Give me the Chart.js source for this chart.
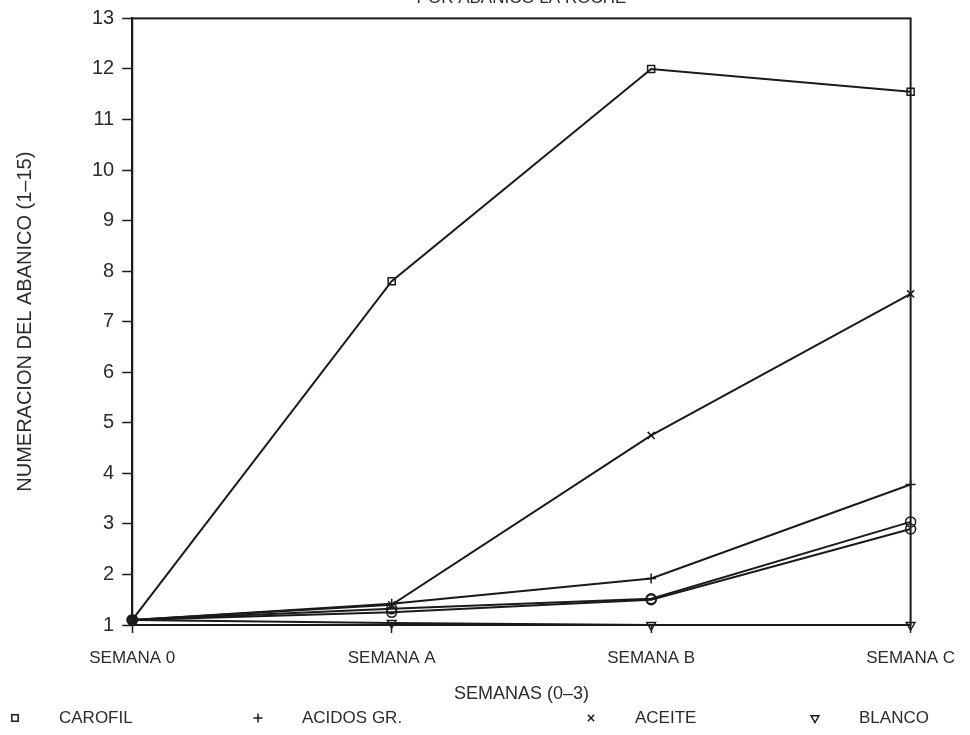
<!DOCTYPE html>
<html>
<head>
<meta charset="utf-8">
<script src="https://cdn.jsdelivr.net/npm/chart.js@4/dist/chart.umd.min.js"></script>
<style>
  html, body { margin: 0; padding: 0; background: #fff; overflow: hidden; }
  #wrap { position: absolute; left: 0; top: -12px; width: 970px; height: 747px; }
</style>
</head>
<body>
<div id="wrap"><canvas id="chart" width="970" height="747"></canvas></div>
<script>
// weeks on the x axis
const semanas = ['SEMANA 0', 'SEMANA A', 'SEMANA B', 'SEMANA C'];

// values
const carofil   = [1.1, 7.8, 12.0, 11.55];
const aceite    = [1.1, 1.4, 4.75, 7.55];
const acidosGr  = [1.1, 1.42, 1.92, 3.78];
const serieD    = [1.1, 1.32, 1.52, 3.04];
const serieE    = [1.1, 1.25, 1.5, 2.9];
const blanco    = [1.1, 1.04, 1.0, 1.0];

const yTicks = [1, 2, 3, 4, 5, 6, 7, 8, 9, 10, 11, 12, 13];

const ink = '#1a1a1a';
const txt = '#2b2b2b';
const fam = '"Liberation Sans", Arial, sans-serif';

function serie(label, data, style, rot, legend) {
  return {
    label: label,
    data: data,
    borderColor: ink,
    backgroundColor: 'rgba(255,255,255,0)',
    borderWidth: 2,
    pointStyle: style,
    pointRotation: rot,
    pointRadius: 5,
    pointBorderColor: ink,
    pointBorderWidth: 1.5,
    tension: 0,
    clip: false,
    inLegend: legend
  };
}

// frame round the plot (top and right sides too)
const frame = {
  id: 'frame',
  afterDatasetsDraw(chart) {
    const a = chart.chartArea, ctx = chart.ctx;
    ctx.save();
    ctx.strokeStyle = ink;
    ctx.lineWidth = 2;
    ctx.strokeRect(a.left, a.top, a.right - a.left, a.bottom - a.top);
    ctx.restore();
  }
};

// legend row along the bottom, wide spaced like the plotter output
const legendX = [15, 258, 591, 815];
const bottomLegend = {
  id: 'bottomLegend',
  afterDraw(chart) {
    const ctx = chart.ctx;
    const y = chart.height - 17;
    const shown = chart.data.datasets.filter(d => d.inLegend);
    ctx.save();
    ctx.font = '17px ' + fam;
    ctx.textBaseline = 'middle';
    shown.forEach((d, i) => {
      const x = legendX[i];
      ctx.strokeStyle = ink;
      ctx.fillStyle = 'rgba(255,255,255,0)';
      ctx.lineWidth = 1.5;
      Chart.helpers.drawPoint(ctx, { pointStyle: d.pointStyle, rotation: d.pointRotation, radius: 4.5, borderWidth: 1.5 }, x, y);
      ctx.fillStyle = txt;
      ctx.fillText(d.label, x + 44, y);
    });
    ctx.restore();
  }
};

new Chart(document.getElementById('chart'), {
  type: 'line',
  data: {
    labels: semanas,
    datasets: [
      serie('CAROFIL', carofil, 'rect', 0, true),
      serie('ACIDOS GR.', acidosGr, 'cross', 0, true),
      serie('ACEITE', aceite, 'crossRot', 0, true),
      serie('BLANCO', blanco, 'triangle', 180, true),
      serie('D', serieD, 'circle', 0, false),
      serie('E', serieE, 'circle', 0, false)
    ]
  },
  options: {
    responsive: false,
    animation: false,
    layout: { padding: { left: 13, right: 4, top: 0, bottom: 30 } },
    plugins: {
      legend: { display: false },
      tooltip: { enabled: false },
      title: {
        display: true,
        text: 'POR ABANICO LA ROCHE',
        fullSize: false,
        color: txt,
        font: { family: fam, size: 17, weight: 'normal' },
        padding: { top: 0, bottom: 10 }
      }
    },
    scales: {
      x: {
        offset: false,
        grid: { drawOnChartArea: false, tickLength: 8, color: ink, tickWidth: 1.5 },
        border: { color: ink, width: 2 },
        ticks: { color: txt, font: { family: fam, size: 17 }, padding: 15, maxRotation: 0 },
        title: {
          display: true,
          text: 'SEMANAS (0\u20133)',
          color: txt,
          font: { family: fam, size: 18 },
          padding: { top: 0, bottom: 0 }
        }
      },
      y: {
        min: 1,
        max: 13,
        afterBuildTicks(axis) { axis.ticks = yTicks.map(v => ({ value: v })); },
        grid: { drawOnChartArea: false, tickLength: 10, color: ink, tickWidth: 1.5 },
        border: { color: ink, width: 2 },
        ticks: { color: txt, font: { family: fam, size: 20 }, padding: 8 },
        title: {
          display: true,
          text: 'NUMERACION DEL ABANICO (1\u201315)',
          color: txt,
          font: { family: fam, size: 20 },
          padding: { top: 0, bottom: 47 }
        }
      }
    }
  },
  plugins: [frame, bottomLegend]
});
</script>
</body>
</html>
